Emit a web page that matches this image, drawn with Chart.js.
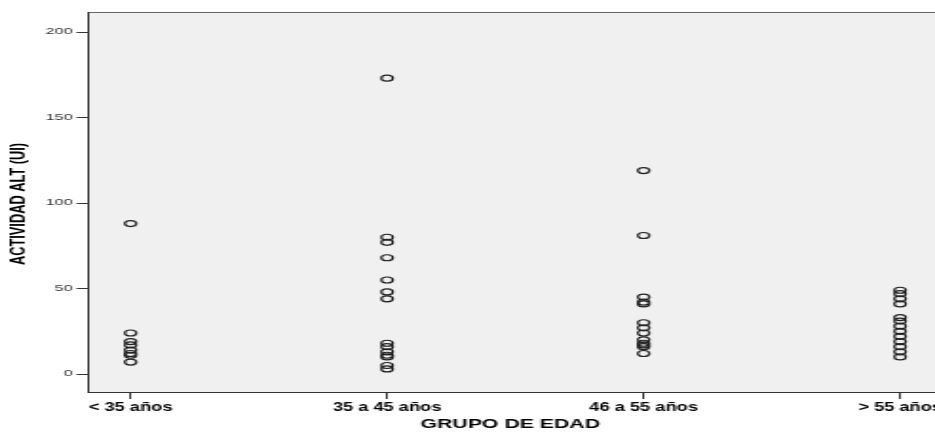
<!DOCTYPE html>
<html>
<head>
<meta charset="utf-8">
<script src="https://cdn.jsdelivr.net/npm/chart.js@4/dist/chart.umd.min.js"></script>
<style>
  html, body { margin: 0; padding: 0; background: #fff; overflow: hidden; }
  /* the source picture is an SPSS plot stretched sideways, so draw narrow and stretch */
  #wrap { width: 492px; height: 434px; transform: scaleX(1.9004); transform-origin: 0 0; }
</style>
</head>
<body>
<div id="wrap"><canvas id="altChart"></canvas></div>
<script>
// ---------- Data ----------
const categories = ["< 35 años", "35 a 45 años", "46 a 55 años", "> 55 años"];
const altUnder35 = [88, 24, 19, 17, 14, 12, 11, 7];
const alt35to45 = [173, 80, 77, 68, 55, 48, 44, 18, 16, 13, 11, 10, 5, 3];
const alt46to55 = [119, 81, 45, 42, 41, 30, 27, 24, 20, 18, 17, 16, 12];
const altOver55 = [49, 47, 44, 41, 33, 31, 28, 25, 22, 19, 16, 13, 10];
const yTicks = [0, 50, 100, 150, 200];
const yTitle = "ACTIVIDAD ALT (UI)";
const xTitle = "GRUPO DE EDAD";

// ---------- Helpers ----------
function toPoints(values, groupIndex) {
  return values.map(v => ({ x: groupIndex, y: v }));
}

const allPoints = [altUnder35, alt35to45, alt46to55, altOver55]
  .map((vals, i) => toPoints(vals, i))
  .flat();

const BOLD = "bold {s}px 'Liberation Sans', Arial, sans-serif";

// text squeezed sideways, to undo part of the page stretch
function drawSqueezed(ctx, text, x, y, size, sx, rotate) {
  ctx.save();
  ctx.translate(x, y);
  if (rotate) ctx.rotate(-Math.PI / 2);
  ctx.scale(sx, 1);
  ctx.font = BOLD.replace("{s}", size);
  ctx.textAlign = "center";
  ctx.textBaseline = "middle";
  ctx.fillStyle = "#000";
  ctx.fillText(text, 0, 0);
  ctx.restore();
}

// grey plot area + top frame line
const plotBackground = {
  id: "plotBackground",
  beforeDraw(chart) {
    const { ctx, chartArea: a } = chart;
    ctx.save();
    ctx.fillStyle = "#f0f0f0";
    ctx.fillRect(a.left, a.top, a.right - a.left, a.bottom - a.top);
    ctx.strokeStyle = "#666";
    ctx.lineWidth = 1;
    ctx.beginPath();
    ctx.moveTo(a.left, a.top + 0.5);
    ctx.lineTo(a.right, a.top + 0.5);
    ctx.stroke();
    ctx.restore();
  }
};

// axis texts: category names, x title, rotated y title
const axisTexts = {
  id: "axisTexts",
  afterDraw(chart) {
    const { ctx } = chart;
    const xs = chart.scales.x;
    categories.forEach((c, i) => {
      drawSqueezed(ctx, c, xs.getPixelForValue(i), xs.top + 16, 12, 0.8, false);
    });
    drawSqueezed(ctx, xTitle, 268.5, xs.top + 32.5, 13, 0.86, false);
    drawSqueezed(ctx, yTitle, 10.5, 204, 10, 1.28, true);
  }
};

// ---------- Chart ----------
const ctx = document.getElementById("altChart").getContext("2d");

new Chart(ctx, {
  type: "scatter",
  data: {
    datasets: [{
      label: "ALT",
      data: allPoints,
      pointStyle: "circle",
      pointRadius: 3,
      pointHoverRadius: 3,
      borderWidth: 1.2,
      borderColor: "#222",
      backgroundColor: "rgba(0,0,0,0)"
    }]
  },
  options: {
    responsive: true,
    maintainAspectRatio: false,
    animation: false,
    layout: { autoPadding: false, padding: { top: 12, left: 0, right: 0, bottom: 0 } },
    plugins: {
      legend: { display: false },
      tooltip: { enabled: false }
    },
    scales: {
      x: {
        type: "linear",
        min: -0.166,
        max: 3.136,
        afterBuildTicks: (scale) => {
          scale.ticks = categories.map((c, i) => ({ value: i }));
        },
        afterFit: (scale) => {
          scale.height = 42;
          scale.paddingLeft = 0;
          scale.paddingRight = 0;
        },
        border: { display: true, color: "#333", width: 1 },
        grid: { drawOnChartArea: false, drawTicks: true, tickLength: 7, color: "#333" },
        ticks: { display: false }
      },
      y: {
        min: -10.5,
        max: 211.7,
        afterBuildTicks: (scale) => {
          scale.ticks = yTicks.map(v => ({ value: v }));
        },
        afterFit: (scale) => {
          scale.width = 46.3;
          scale.paddingTop = 0;
          scale.paddingBottom = 0;
        },
        border: { display: true, color: "#333", width: 1 },
        grid: { drawOnChartArea: false, drawTicks: true, tickLength: 6, color: "#333" },
        ticks: {
          padding: 2,
          color: "#333",
          font: { family: "'Liberation Sans', Arial, sans-serif", size: 8.5 }
        }
      }
    }
  },
  plugins: [plotBackground, axisTexts]
});
</script>
</body>
</html>
